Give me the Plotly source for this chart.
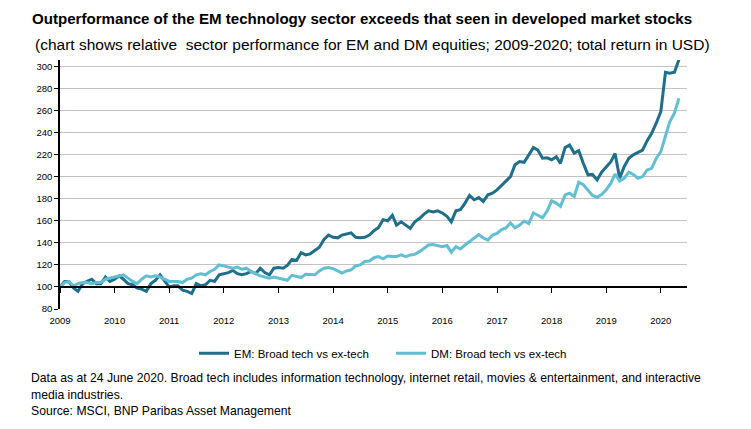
import plotly.graph_objects as go
import pandas as pd

# Monthly index values (Jan 2009 = 100)
em_values = [
    100, 105, 105, 99, 96, 103, 105, 107, 103, 103, 109, 105,
    107, 110, 107, 103, 102, 99, 98, 96, 103, 106, 111, 106,
    100, 101, 101, 97, 96, 94, 103, 101, 102, 106, 105, 111,
    112, 113, 115, 112, 111, 112, 114, 112, 117, 113, 111, 117,
    117.5, 117, 119.5, 125, 124, 131, 129, 130, 133, 136, 143, 147,
    145, 144.5, 147, 148, 149, 145, 144.5, 145, 147, 151, 154, 161,
    160, 165, 156, 159, 156, 153, 159, 162, 166, 169, 168, 169,
    167, 164, 159, 169, 170, 176, 183, 179, 181, 177.5, 183.5, 185,
    188, 192, 195.5, 200, 210.7, 213.7, 213, 219.7, 226.3, 224, 216.7, 217,
    215.3, 218, 212, 226.3, 228.7, 221.3, 223.5, 212, 201.6, 202, 197, 204,
    209, 213.5, 221, 198.6, 209, 216.7, 219.7, 222, 224, 232.4, 239.3, 248.4,
    259, 294.6, 293.7, 294.6, 306,
]
dm_values = [
    100, 104, 105, 101, 103, 104, 104, 103, 104, 104, 107, 108,
    108.5, 110, 111, 108, 105, 103, 107, 110, 109, 110, 109, 107,
    105, 105, 105, 104, 107, 108, 111, 112, 111, 114, 116, 120,
    119, 118, 117, 118, 116, 117, 114, 112, 110, 109, 108, 109,
    108, 107.5, 106, 110.5, 109.5, 108.5, 111.5, 111.5, 111, 114.5, 117, 117.5,
    116.5, 114.5, 112.5, 114.5, 115.5, 119, 120, 123, 123.5, 126.5, 127.5, 125.5,
    128, 127.5, 127.5, 129, 127.5, 129, 129.5, 132, 135, 138, 138.5, 137.5,
    136.5, 137.5, 131.5, 136.5, 134.5, 138, 141, 144, 147.5, 144.5, 142.5, 147,
    148.5, 152, 153.5, 158, 153.5, 156, 159.7, 157.3, 167, 165, 162.7, 168.7,
    178, 176, 173, 183.5, 185, 182, 195, 192.6, 187.2, 183, 181.3, 183.7,
    188, 194, 202.2, 196, 198.5, 204, 202, 198.5, 200, 206, 207.5, 216.5,
    222.6, 237.8, 249.8, 257.4, 271,
]
dates = pd.date_range("2009-01-01", periods=len(em_values), freq="MS")
year_ticks = [f"{y}-01-01" for y in range(2009, 2021)]
year_labels = [str(y) for y in range(2009, 2021)]
y_ticks = list(range(80, 301, 20))

series_names = ["EM: Broad tech vs ex-tech", "DM: Broad tech vs ex-tech"]
EM_COLOR = "#1f6e8a"
DM_COLOR = "#62bfd3"
FONT = "Liberation Sans Narrow, Arial Narrow, Liberation Sans, Arial, sans-serif"

fig = go.Figure()
fig.add_trace(go.Scatter(x=dates, y=em_values, mode="lines", name=series_names[0],
                         line=dict(color=EM_COLOR, width=3)))
fig.add_trace(go.Scatter(x=dates, y=dm_values, mode="lines", name=series_names[1],
                         line=dict(color=DM_COLOR, width=3)))
# invisible helper trace for the axis line drawn at the 100 level
fig.add_trace(go.Scatter(x=[dates[0]], y=[100], xaxis="x2", mode="markers",
                         marker=dict(opacity=0), showlegend=False, hoverinfo="skip"))

x_range = ["2009-01-01", "2020-06-24"]
y_min, y_max = 80, 305.7

fig.update_layout(
    width=751, height=429,
    margin=dict(l=60, r=64, t=60, b=120),
    paper_bgcolor="white", plot_bgcolor="white",
    font=dict(family=FONT, color="#000000", size=10),
    xaxis=dict(range=x_range, tickvals=year_ticks, ticktext=year_labels,
               showgrid=False, showline=False, ticks="", zeroline=False,
               ticklabelstandoff=4,
               tickfont=dict(size=9.5, family=FONT)),
    xaxis2=dict(range=x_range, overlaying="x", anchor="free",
                position=(100 - y_min) / (y_max - y_min),
                tickvals=year_ticks, showticklabels=False, showgrid=False,
                showline=True, linecolor="#000000", linewidth=1.5,
                ticks="outside", ticklen=5, tickcolor="#000000", tickwidth=1),
    yaxis=dict(range=[y_min, y_max], tickvals=y_ticks, showgrid=True,
               gridcolor="#c3c3c3", gridwidth=1, zeroline=False,
               showline=True, linecolor="#000000", linewidth=1.5,
               ticks="outside", ticklen=4, tickcolor="#000000",
               tickfont=dict(size=9.5, family=FONT)),
    legend=dict(orientation="h", x=(194 - 60) / 627.0, xanchor="left", y=-0.178, yanchor="middle",
                font=dict(size=11.5, family=FONT), entrywidth=152, bgcolor="rgba(0,0,0,0)"),
    showlegend=True,
)

def px_x(x):
    return (x - 60) / 627.0

def px_y(y):
    return (309 - y) / 249.0

annos = [
    dict(text="<b>Outperformance of the EM technology sector exceeds that seen in developed market stocks</b>",
         x=px_x(30), y=px_y(19), size=15.1),
    dict(text="(chart shows relative  sector performance for EM and DM equities; 2009-2020; total return in USD)",
         x=px_x(33), y=px_y(44), size=15.5),
    dict(text="Data as at 24 June 2020. Broad tech includes information technology, internet retail, movies &amp; entertainment, and interactive",
         x=px_x(29), y=px_y(378), size=12.2),
    dict(text="media industries.", x=px_x(29), y=px_y(395), size=12.2),
    dict(text="Source: MSCI, BNP Paribas Asset Management", x=px_x(29), y=px_y(411), size=12.2),
]
for a in annos:
    fig.add_annotation(text=a["text"], x=a["x"], y=a["y"], xref="paper", yref="paper",
                       xanchor="left", yanchor="middle", showarrow=False,
                       font=dict(size=a["size"], family=FONT, color="#000000"))

fig.write_html("out.html")
